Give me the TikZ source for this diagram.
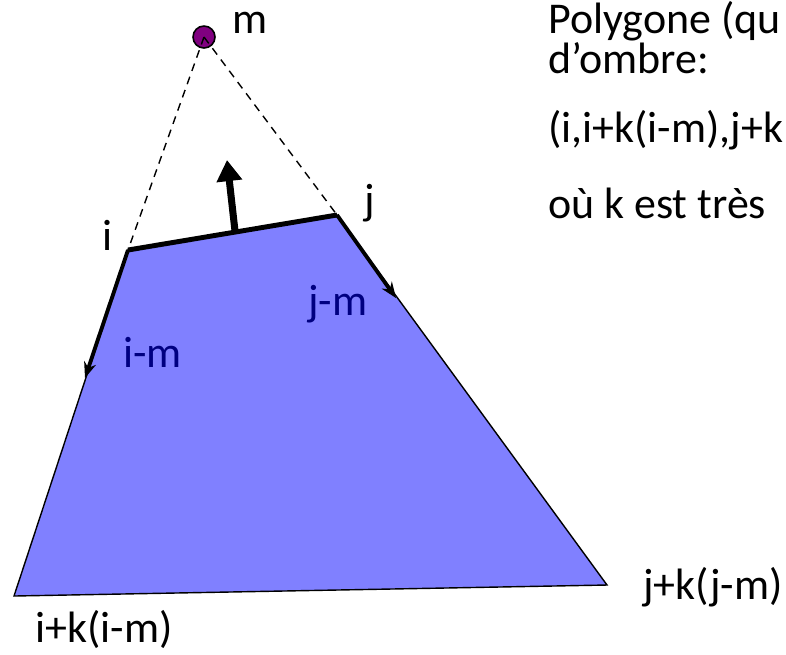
\documentclass[tikz,border=0pt]{standalone}
\usepackage{fontspec}
\setmainfont{Carlito}
\usetikzlibrary{arrows.meta}
\definecolor{ombre}{RGB}{128,128,255}
\definecolor{mpourpre}{RGB}{128,0,128}
\definecolor{bleufonce}{RGB}{0,0,128}

\begin{document}
\begin{tikzpicture}[x=0.02cm, y=-0.02cm, font=\fontsize{25}{28}\selectfont,
  lbl/.style={inner sep=0pt, anchor=base west},
  dirm/.style={line width=2.2pt, -{Stealth[length=9pt,width=7pt]}},
  normale/.style={line width=4pt, -{Triangle[length=12pt,width=14pt]}},
  rayon/.style={line width=0.8pt, dash pattern=on 4.5pt off 3.5pt},
  source/.style={circle, draw, line width=0.9pt, fill=mpourpre,
                 minimum size=0.44cm, inner sep=0pt}
]
  \useasboundingbox (0,0) rectangle (786,654);
  % sommets
  \coordinate (i)  at (128,250);
  \coordinate (j)  at (337,215);
  \coordinate (ik) at (14,596);
  \coordinate (jk) at (607,585);
  % polygone d'ombre
  \filldraw[fill=ombre, draw=black, line width=0.8pt] (i) -- (j) -- (jk) -- (ik) -- cycle;
  % arete et normale
  \draw[line width=2.8pt] (i) -- (j);
  \coordinate (n0) at (235,231);
  \coordinate (n1) at (227,160);
  \draw[normale] (n0) -- (n1);
  % directions i-m et j-m
  \coordinate (im) at (85,378);
  \coordinate (jm) at (396,298);
  \draw[dirm] (i) -- (im);
  \draw[dirm] (j) -- (jm);
  % source m
  \node[source] (m) at (204,37) {};
  \draw[rayon] (m.center) -- (i);
  \draw[rayon] (m.center) -- (j);
  % etiquettes
  \node[lbl] (lm)  at (232,33)  {m};
  \node[lbl] (li)  at (102,250) {i};
  \node[lbl] (lj)  at (364,214) {j};
  \node[lbl, bleufonce] (ljm) at (308,315) {j-m};
  \node[lbl, bleufonce] (lim) at (123,367) {i-m};
  \node[lbl] (lik) at (35,642)  {i+k(i-m)};
  \node[lbl] (ljk) at (643,599) {j+k(j-m)};
  % texte
  \node[lbl] (t1) at (548,33)  {Polygone (qu};
  \node[lbl] (t2) at (548,73)  {d’ombre:};
  \node[lbl] (t3) at (548,142) {(i,i+k(i-m),j+k};
  \node[lbl] (t4) at (548,218) {où k est très};
\end{tikzpicture}
\end{document}
